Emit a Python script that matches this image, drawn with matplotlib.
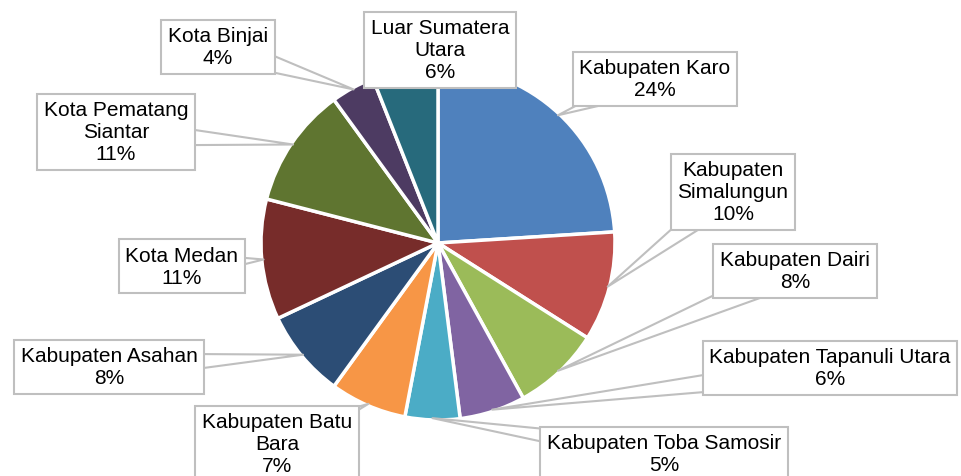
import numpy as np
import matplotlib
matplotlib.use("Agg")
import matplotlib.pyplot as plt

plt.rcParams['font.family'] = ['Liberation Sans', 'DejaVu Sans']

# share of origin (%)
labels = ["Kabupaten Karo", "Kabupaten\nSimalungun", "Kabupaten Dairi",
          "Kabupaten Tapanuli Utara", "Kabupaten Toba Samosir",
          "Kabupaten Batu\nBara", "Kabupaten Asahan", "Kota Medan",
          "Kota Pematang\nSiantar", "Kota Binjai", "Luar Sumatera\nUtara"]
pcts = [24, 10, 8, 6, 5, 7, 8, 11, 11, 4, 6]
colors = ["#4F81BD", "#C0504D", "#9BBB59", "#8064A2", "#4BACC6", "#F79646",
          "#2C4D75", "#772C2A", "#5F7530", "#4D3B62", "#276A7C"]

# callout box centres (pixel coords, origin top-left)
box_xy = [(655, 80), (733, 193), (795, 272), (830, 369), (664, 455),
          (277, 445), (109, 368), (182, 267), (116, 133), (218, 48), (440, 51)]

W, H = 962, 477
fig = plt.figure(figsize=(W / 100, H / 100), dpi=100)
ax = fig.add_axes([0, 0, 1, 1])

cx, cy, r = 438, H - 244, 177
wedges, _ = ax.pie(pcts, colors=colors, startangle=90, counterclock=False,
                   center=(cx, cy), radius=r,
                   wedgeprops=dict(edgecolor="white", linewidth=2.5))
ax.set_xlim(0, W)
ax.set_ylim(0, H)
ax.set_aspect("equal")
ax.axis("off")

for w, lab, p, (bx, by) in zip(wedges, labels, pcts, box_xy):
    ang = np.deg2rad((w.theta1 + w.theta2) / 2)
    tx = cx + r * 0.99 * np.cos(ang)
    ty = cy + r * 0.99 * np.sin(ang)
    ax.annotate(f"{lab}\n{p}%", xy=(tx, ty), xytext=(bx, H - by),
                ha="center", va="center", fontsize=15, linespacing=1.2,
                bbox=dict(boxstyle="square,pad=0.32", fc="white",
                          ec="#BFBFBF", lw=1.5),
                arrowprops=dict(arrowstyle="wedge,tail_width=1.3",
                                fc="white", ec="#BFBFBF", lw=1.5,
                                patchA=None, shrinkA=0, shrinkB=0),
                zorder=5)

fig.savefig("out.png", dpi=100)
